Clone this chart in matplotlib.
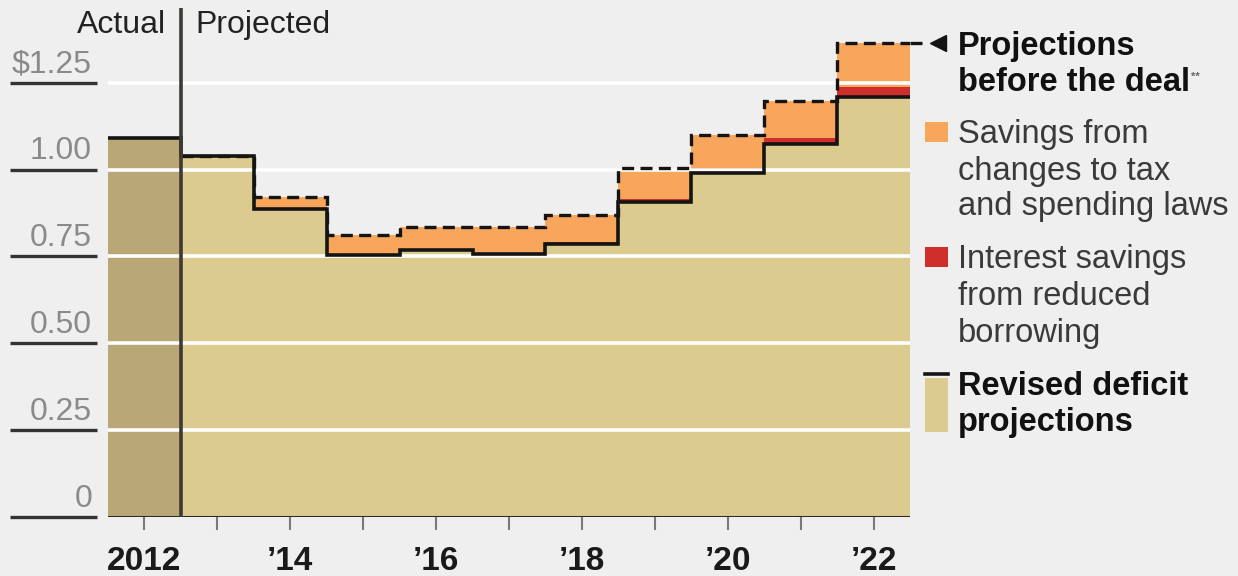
import matplotlib
matplotlib.use("Agg")
import matplotlib.pyplot as plt
import numpy as np
from matplotlib.transforms import blended_transform_factory
from matplotlib.patches import Rectangle
from matplotlib.lines import Line2D

# ---------------- data (trillions of dollars) ----------------
years = [2012, 2013, 2014, 2015, 2016, 2017, 2018, 2019, 2020, 2021, 2022]
revised = [1.09, 1.04, 0.885, 0.754, 0.768, 0.757, 0.785, 0.906, 0.991, 1.073, 1.209]
interest = [0.0, 0.0, 0.0, 0.002, 0.003, 0.004, 0.005, 0.009, 0.012, 0.017, 0.027]
before = [1.09, 1.04, 0.922, 0.811, 0.834, 0.834, 0.869, 1.003, 1.099, 1.198, 1.365]
ytick_vals = [0, 0.25, 0.5, 0.75, 1.0, 1.25]
ytick_labels = ["0", "0.25", "0.50", "0.75", "1.00", "\\$1.25"]
xtick_labels = ["2012", "", "\u201914", "", "\u201916", "", "\u201918", "", "\u201920", "", "\u201922"]

# ---------------- style ----------------
BG = "#efefef"
TAN = "#dccb8e"
DARK_TAN = "#b9a775"
ORANGE = "#f7a65b"
RED = "#cf2f2a"
FONT = "Liberation Sans"
plt.rcParams["font.family"] = [FONT, "DejaVu Sans"]

W, H = 1238, 576
fig = plt.figure(figsize=(W / 100, H / 100), dpi=100, facecolor=BG)
fx = lambda px: px / W
fy = lambda py: 1 - py / H

ax = fig.add_axes([fx(108), fy(517), fx(910) - fx(108), fy(8) - fy(517)])
ax.set_facecolor(BG)
for s in ax.spines.values():
    s.set_visible(False)
ax.set_xlim(2011.5, 2022.5)
ax.set_ylim(0, 509 / 347.5)

yrs = np.array(years)
rev = np.array(revised)
intr = np.array(interest)
bef = np.array(before)
proj = yrs > 2012

# fills
ax.bar(yrs[~proj], rev[~proj], width=1.0, color=DARK_TAN, linewidth=0, zorder=1)
ax.bar(yrs[proj], rev[proj], width=1.0, color=TAN, linewidth=0, zorder=1)
ax.bar(yrs[proj], intr[proj], bottom=rev[proj], width=1.0, color=RED, linewidth=0, zorder=1)
orange_h = bef[proj] - rev[proj] - intr[proj]
ax.bar(yrs[proj], orange_h, bottom=rev[proj] + intr[proj], width=1.0, color=ORANGE, linewidth=0, zorder=1)

# white gridlines
for v in ytick_vals[1:]:
    ax.axhline(v, color="white", lw=2.6, zorder=2)
ax.axhline(0, color="#2a2a2a", lw=2.2, zorder=5)

# step lines
edges = np.append(yrs - 0.5, yrs[-1] + 0.5)
ax.stairs(rev, edges, baseline=None, color="#141414", lw=2.6, zorder=4)
proj_edges = np.append(yrs[proj] - 0.5, yrs[-1] + 0.5)
ax.stairs(bef[proj], proj_edges, baseline=None, color="#141414", lw=2.4,
          linestyle=(0, (3.6, 1.9)), zorder=4.5)
px_per_year = 802 / 11
ax.plot([yrs[-1] + 0.5, yrs[-1] + 0.5 + 14 / px_per_year], [bef[-1], bef[-1]],
        color="#141414", lw=2.4, linestyle=(0, (3.6, 1.9)), clip_on=False, zorder=4.5)
ax.plot([yrs[-1] + 0.5 + 28 / px_per_year], [bef[-1]], marker="<", markersize=12,
        color="#141414", clip_on=False, zorder=5)

# actual / projected divider
ax.axvline(2012.5, color="#3d3a33", lw=2.6, zorder=6)

# x ticks
ax.set_xticks(yrs)
ax.set_xticklabels([""] * len(yrs))
ax.tick_params(axis="x", length=9.5, width=1.5, color="#7a7a7a", direction="out")
ax.set_yticks([])
for y, lab in zip(years, xtick_labels):
    if lab:
        ax.annotate(lab, xy=(y, fy(570)), xycoords=("data", "figure fraction"),
                    ha="center", va="baseline", fontsize=24, fontweight="bold",
                    color="#1a1a1a", annotation_clip=False)

# y labels with underlines
btr = blended_transform_factory(fig.transFigure, ax.transData)
for v, lab in zip(ytick_vals, ytick_labels):
    ax.plot([fx(10), fx(97)], [v, v], color="#333333", lw=2.4, transform=btr,
            clip_on=False, solid_capstyle="butt")
    ax.annotate(lab, xy=(fx(92), v), xycoords=("figure fraction", "data"),
                xytext=(0, 7.5), textcoords="offset points", ha="right",
                va="baseline", fontsize=23, color="#8a8a8a", annotation_clip=False)

# Actual / Projected headers
fig.text(fx(166), fy(33), "Actual", ha="right", va="baseline", fontsize=23, color="#222222")
fig.text(fx(195), fy(33), "Projected", ha="left", va="baseline", fontsize=23, color="#222222")

# legend
TX = fx(958)
LEG_FS = 23.5
fig.text(TX, fy(55), "Projections", fontsize=LEG_FS, fontweight="bold", color="#111111", va="baseline")
t = fig.text(TX, fy(91), "before the deal", fontsize=LEG_FS, fontweight="bold", color="#111111", va="baseline")
ann = plt.Annotation("**", xy=(1.0, 0.85), xycoords=t, xytext=(1, 0), textcoords="offset points",
                     fontsize=8, fontweight="bold", color="#666666", va="top", ha="left")
fig.add_artist(ann)

fig.patches.append(Rectangle((fx(925), fy(142)), fx(948) - fx(925), fy(122) - fy(142),
                             transform=fig.transFigure, color=ORANGE, lw=0))
for by, s in zip([143, 180, 215], ["Savings from", "changes to tax", "and spending laws"]):
    fig.text(TX, fy(by), s, fontsize=LEG_FS, color="#3a3a3a", va="baseline")

fig.patches.append(Rectangle((fx(925), fy(267)), fx(948) - fx(925), fy(247) - fy(267),
                             transform=fig.transFigure, color=RED, lw=0))
for by, s in zip([268, 305, 342], ["Interest savings", "from reduced", "borrowing"]):
    fig.text(TX, fy(by), s, fontsize=LEG_FS, color="#3a3a3a", va="baseline")

fig.patches.append(Rectangle((fx(925), fy(432)), fx(948) - fx(925), fy(378) - fy(432),
                             transform=fig.transFigure, color=TAN, lw=0))
fig.lines.append(Line2D([fx(925), fx(948)], [fy(374), fy(374)], transform=fig.transFigure,
                        color="#141414", lw=2.6))
for by, s in zip([395, 431], ["Revised deficit", "projections"]):
    fig.text(TX, fy(by), s, fontsize=LEG_FS, fontweight="bold", color="#111111", va="baseline")

fig.savefig("out.png", dpi=100, facecolor=BG)
